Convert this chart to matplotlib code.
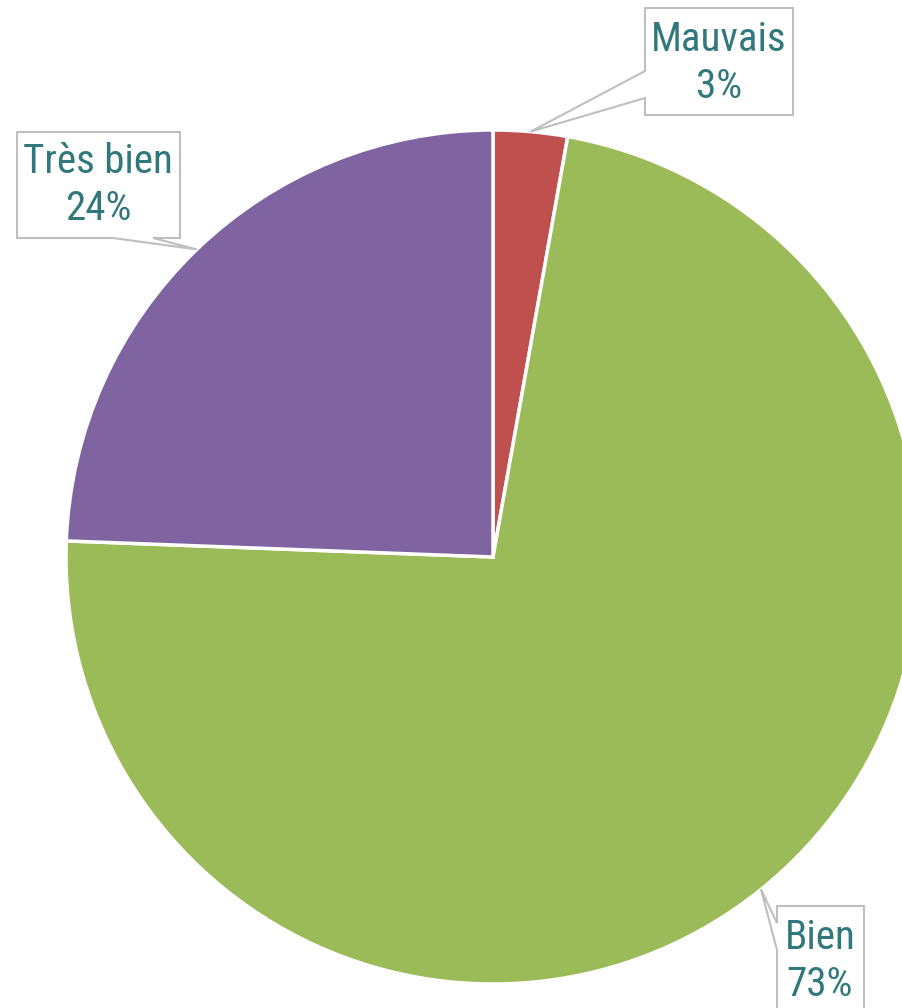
#!/usr/bin/env python3
"""Pie chart of satisfaction ratings with callout labels."""

import numpy as np
import matplotlib
matplotlib.use("Agg")
import matplotlib.pyplot as plt
from matplotlib import font_manager
from matplotlib.patches import Polygon

W, H = 903, 1008

labels = ["Mauvais", "Bien", "Très bien"]
shares = [2.8, 72.8, 24.4]
colors = ["#C0504D", "#9BBB59", "#8064A2"]

TEXT_COLOR = "#31787C"
BOX_EDGE = "#BFBFBF"
CENTER = (493, 557)
RADIUS = 427

# callout boxes in pixel coords (x0, y0, x1, y1), pointer base on box edge, text centre
callouts = {
    "Mauvais": dict(box=(645, 8, 793, 115), side="left", base=(71, 98), text=(719, 63)),
    "Bien": dict(box=(777, 906, 864, 1040), side="left", base=(923, 950), text=(820, 961)),
    "Très bien": dict(box=(17, 132, 180, 238), side="bottom", base=(113, 153), text=(98, 185)),
}


def fy(y):
    return H - y


def pick_font():
    # narrow face if there is one, else plain Liberation Sans a bit smaller
    for fam, size in [("Roboto Condensed", 29.5), ("Liberation Sans Narrow", 29.5)]:
        try:
            font_manager.findfont(font_manager.FontProperties(family=fam), fallback_to_default=False)
            return fam, size
        except ValueError:
            pass
    return "Liberation Sans", 27


def callout_polygon(box, side, base, tip):
    x0, y0, x1, y1 = box
    if side == "left":
        pts = [(x0, y0), (x1, y0), (x1, y1), (x0, y1), (x0, base[1]), tip, (x0, base[0])]
    else:
        pts = [(x0, y0), (x1, y0), (x1, y1), (base[1], y1), tip, (base[0], y1), (x0, y1)]
    return [(px, fy(py)) for px, py in pts]


def main():
    fam, size = pick_font()
    plt.rcParams["font.family"] = [fam, "DejaVu Sans"]
    fig = plt.figure(figsize=(W / 100, H / 100), dpi=100)
    ax = fig.add_axes([0, 0, 1, 1])

    cx, cy = CENTER[0], fy(CENTER[1])
    ax.pie(shares, colors=colors, startangle=90, counterclock=False,
           center=(cx, cy), radius=RADIUS, frame=True,
           wedgeprops=dict(edgecolor="white", linewidth=2.5))
    ax.set_xlim(0, W)
    ax.set_ylim(0, H)
    ax.set_aspect("equal")
    ax.axis("off")

    total = float(sum(shares))
    cum = 0.0
    for lab, val in zip(labels, shares):
        mid = (cum + val / 2) / total
        cum += val
        ang = np.deg2rad(90 - 360 * mid)
        tip_x = cx + RADIUS * np.cos(ang)
        tip_y = cy + RADIUS * np.sin(ang)
        c = callouts[lab]
        tip = (tip_x, H - tip_y)
        poly = Polygon(callout_polygon(c["box"], c["side"], c["base"], tip), closed=True,
                       facecolor="white", edgecolor=BOX_EDGE, linewidth=1.5, zorder=5)
        ax.add_patch(poly)
        pct = round(val / total * 100)
        ax.text(c["text"][0], fy(c["text"][1]), f"{lab}\n{pct}%", ha="center", va="center",
                multialignment="center", fontsize=size, color=TEXT_COLOR, zorder=6,
                linespacing=1.25)

    fig.savefig("out.png", dpi=100)
    plt.close(fig)


if __name__ == "__main__":
    main()
